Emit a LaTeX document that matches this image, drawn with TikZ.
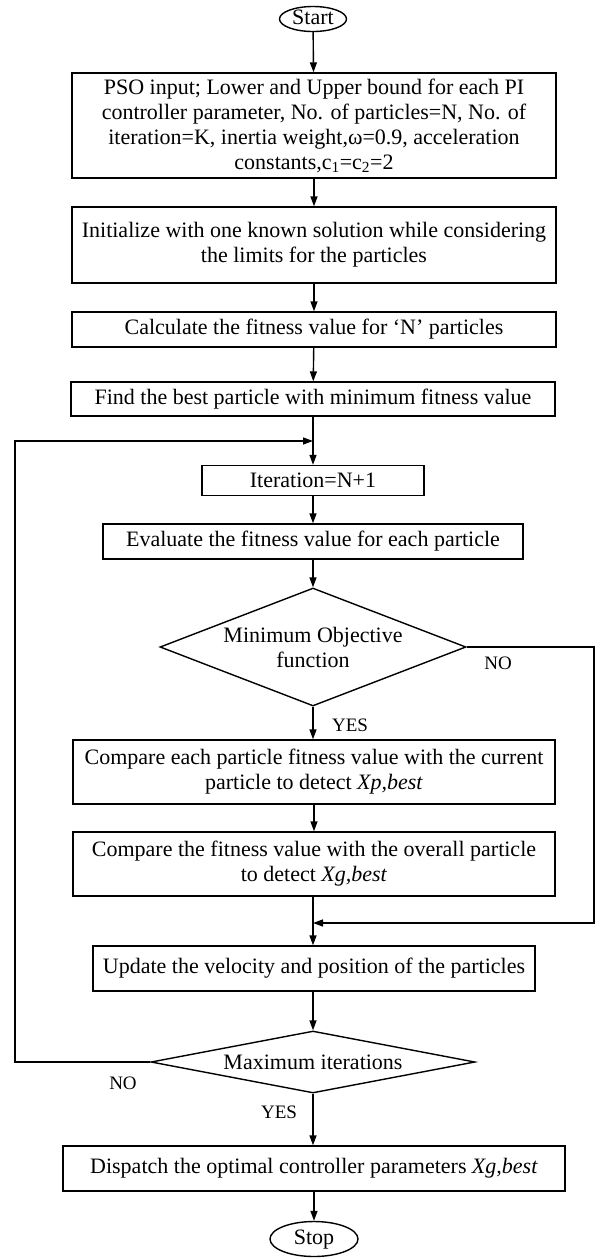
\documentclass[tikz,border=0pt]{standalone}
\usepackage{fontspec}
\setmainfont{Liberation Serif}
\usetikzlibrary{shapes.geometric,arrows.meta}
\begin{document}
\begin{tikzpicture}[x=1pt,y=-1pt,
  every node/.style={font=\fontsize{22}{25}\selectfont},
  box/.style={draw,line width=1.4pt,rectangle,inner sep=0pt,align=center},
  term/.style={draw,line width=1.4pt,ellipse,inner sep=0pt,text height=14pt,text depth=3pt},
  dia/.style={draw,line width=1.4pt,diamond,inner sep=0pt},
  lbl/.style={font=\fontsize{19}{22}\selectfont},
  arr/.style={line width=1.4pt,-{Triangle[length=10pt,width=7pt]}},
  ln/.style={line width=1.4pt}]
\useasboundingbox (0,0) rectangle (604,1259);

\node[term,minimum width=67pt,minimum height=25pt] (start) at (313,19) {Start};
\node[box,minimum width=484pt,minimum height=105pt] (pso) at (314,125.5)
  {PSO input; Lower and Upper bound for each PI\\
   controller parameter, No. of particles=N, No. of\\
   iteration=K, inertia weight,ω=0.9, acceleration\\
   constants,c\textsubscript{1}=c\textsubscript{2}=2};
\node[box,minimum width=484pt,minimum height=76pt] (init) at (314,245)
  {Initialize with one known solution while considering\\ the limits for the particles};
\node[box,minimum width=484pt,minimum height=35pt] (calc) at (314,329.5)
  {Calculate the fitness value for ‘N’ particles};
\node[box,minimum width=484pt,minimum height=34pt] (find) at (313,399)
  {Find the best particle with minimum fitness value};
\node[box,minimum width=222pt,minimum height=30pt] (iter) at (313,480.5)
  {Iteration=N+1};
\node[box,minimum width=420pt,minimum height=35pt] (eval) at (313,541.5)
  {Evaluate the fitness value for each particle};
\node[dia,minimum width=306pt,minimum height=118pt] (dec1) at (313,647) {};
\node[align=center] (dec1text) at (313,647) {Minimum Objective\\function};
\node[box,minimum width=482pt,minimum height=64pt] (cmp1) at (314,772)
  {Compare each particle fitness value with the current\\ particle to detect \textit{Xp,best}};
\node[box,minimum width=482pt,minimum height=64pt] (cmp2) at (314,864)
  {Compare the fitness value with the overall particle\\ to detect \textit{Xg,best}};
\node[box,minimum width=442pt,minimum height=45pt] (upd) at (314,968.5)
  {Update the velocity and position of the particles};
\node[dia,minimum width=324pt,minimum height=62pt] (dec2) at (313,1062) {};
\node (dec2text) at (313,1062) {Maximum iterations};
\node[box,minimum width=502pt,minimum height=45pt] (disp) at (314,1168.5)
  {Dispatch the optimal controller parameters \textit{Xg,best}};
\node[term,minimum width=88pt,minimum height=35pt] (stop) at (314,1239) {Stop};

\coordinate (loopin) at (313,441);
\coordinate (noin) at (313,923);
\coordinate (r1) at (594,647);
\coordinate (r2) at (594,923);
\coordinate (l1) at (15,1062);
\coordinate (l2) at (15,441);

\draw[arr] (start) -- (pso);
\draw[arr] (pso) -- (init);
\draw[arr] (init) -- (calc);
\draw[arr] (calc) -- (find);
\draw[arr] (find) -- (find |- iter.north);
\draw[arr] (iter) -- (eval);
\draw[arr] (eval) -- (dec1);
\draw[arr] (dec1) -- (dec1 |- cmp1.north);
\draw[arr] (cmp1) -- (cmp1 |- cmp2.north) ;
\draw[arr] (cmp2.south -| noin) -- (noin |- upd.north);
\draw[arr] (upd.south -| dec2) -- (dec2);
\draw[arr] (dec2) -- (dec2 |- disp.north);
\draw[arr] (disp.south -| stop) -- (stop);
\draw[arr] (dec1.east) -- (r1) -- (r2) -- (noin);
\draw[arr] (dec2.west) -- (l1) -- (l2) -- (loopin);

\node[lbl] (yes1) at (350,725) {YES};
\node[lbl] (no1) at (498,663) {NO};
\node[lbl] (no2) at (123,1083) {NO};
\node[lbl] (yes2) at (279,1112) {YES};
\end{tikzpicture}
\end{document}
